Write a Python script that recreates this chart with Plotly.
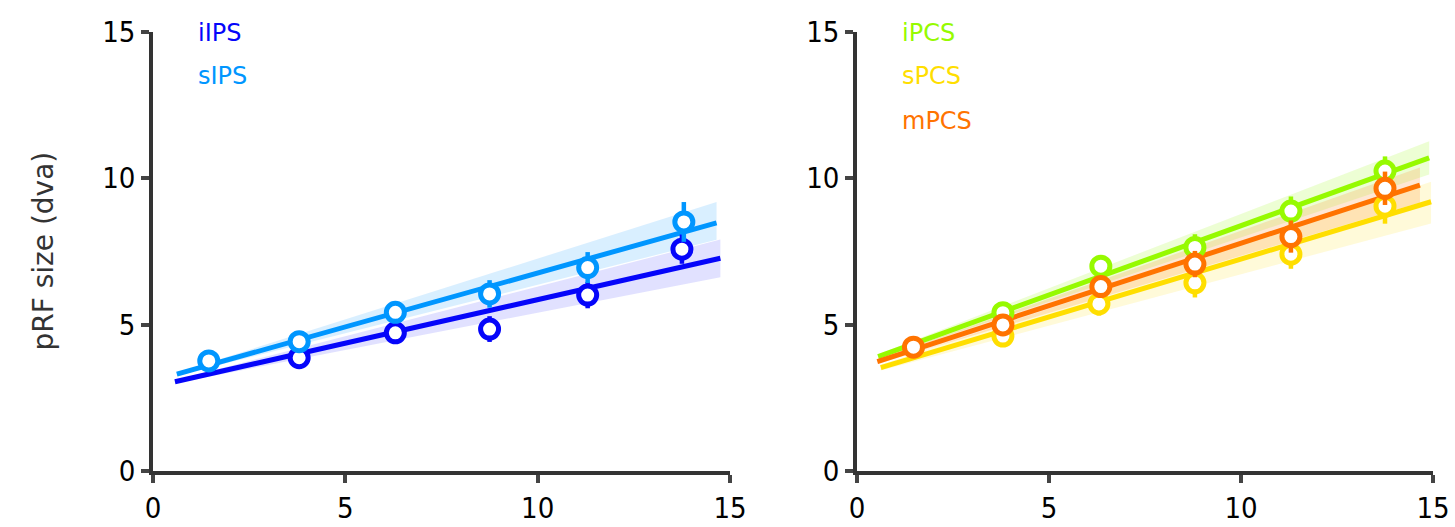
import plotly.graph_objects as go

# ---------------- data ----------------
# left panel (IPS)
iips_x = [3.8, 6.3, 8.75, 11.3, 13.75]
iips_y = [3.87, 4.72, 4.85, 6.01, 7.58]
iips_err = [0.15, 0.18, 0.44, 0.45, 0.5]
sips_x = [1.45, 3.8, 6.3, 8.75, 11.3, 13.8]
sips_y = [3.76, 4.42, 5.42, 6.05, 6.95, 8.51]
sips_err = [0.12, 0.15, 0.18, 0.47, 0.53, 0.68]

iips_fit_x = [0.57, 14.75]
iips_fit_y = [3.05, 7.27]
iips_band_lo = [3.0, 6.62]
iips_band_hi = [3.1, 7.91]
sips_fit_x = [0.62, 14.65]
sips_fit_y = [3.31, 8.48]
sips_band_lo = [3.26, 7.9]
sips_band_hi = [3.36, 9.19]

# right panel (PCS)
ipcs_x = [3.8, 6.35, 8.8, 11.3, 13.75]
ipcs_y = [5.41, 7.0, 7.64, 8.88, 10.25]
ipcs_err = [0.15, 0.2, 0.45, 0.5, 0.5]
spcs_x = [3.8, 6.3, 8.8, 11.3, 13.75]
spcs_y = [4.61, 5.71, 6.43, 7.41, 9.05]
spcs_err = [0.15, 0.4, 0.5, 0.5, 0.6]
mpcs_x = [1.47, 3.8, 6.35, 8.8, 11.3, 13.75]
mpcs_y = [4.23, 4.99, 6.3, 7.07, 8.01, 9.66]
mpcs_err = [0.12, 0.15, 0.2, 0.45, 0.55, 0.57]

ipcs_fit_x = [0.55, 14.9]
ipcs_fit_y = [3.91, 10.70]
ipcs_band_lo = [3.83, 10.13]
ipcs_band_hi = [3.99, 11.27]
spcs_fit_x = [0.62, 14.95]
spcs_fit_y = [3.53, 9.2]
spcs_band_lo = [3.43, 8.46]
spcs_band_hi = [3.63, 9.88]
mpcs_fit_x = [0.53, 14.66]
mpcs_fit_y = [3.74, 9.77]
mpcs_band_lo = [3.66, 9.17]
mpcs_band_hi = [3.82, 10.37]

x_ticks = [0, 5, 10, 15]
y_ticks = [0, 5, 10, 15]

# ---------------- styles ----------------
C_IIPS = "rgb(5,5,250)"
C_SIPS = "rgb(0,150,255)"
C_IPCS = "rgb(150,250,0)"
C_SPCS = "rgb(255,222,0)"
C_MPCS = "rgb(255,115,0)"

fig = go.Figure()


def band(xa, ya, x, lo, hi, fill):
    fig.add_trace(go.Scatter(
        x=list(x) + list(x)[::-1], y=list(hi) + list(lo)[::-1],
        fill="toself", fillcolor=fill, mode="lines", line=dict(width=0),
        hoverinfo="skip", showlegend=False, xaxis=xa, yaxis=ya))


def fitline(xa, ya, x, y, color):
    fig.add_trace(go.Scatter(
        x=x, y=y, mode="lines", line=dict(color=color, width=5),
        showlegend=False, xaxis=xa, yaxis=ya))


def points(xa, ya, x, y, err, color):
    fig.add_trace(go.Scatter(
        x=x, y=y, mode="markers",
        marker=dict(symbol="circle", size=18, color="white",
                    line=dict(color=color, width=5)),
        error_y=dict(type="data", array=err, visible=True, color=color,
                     thickness=4.5, width=0),
        showlegend=False, xaxis=xa, yaxis=ya))


# left panel
band("x", "y", sips_fit_x, sips_band_lo, sips_band_hi, "rgba(0,150,255,0.15)")
band("x", "y", iips_fit_x, iips_band_lo, iips_band_hi, "rgba(20,20,255,0.13)")
fitline("x", "y", sips_fit_x, sips_fit_y, C_SIPS)
fitline("x", "y", iips_fit_x, iips_fit_y, C_IIPS)
points("x", "y", iips_x, iips_y, iips_err, C_IIPS)
points("x", "y", sips_x, sips_y, sips_err, C_SIPS)

# right panel
band("x2", "y2", ipcs_fit_x, ipcs_band_lo, ipcs_band_hi, "rgba(150,250,0,0.17)")
band("x2", "y2", spcs_fit_x, spcs_band_lo, spcs_band_hi, "rgba(255,222,0,0.15)")
band("x2", "y2", mpcs_fit_x, mpcs_band_lo, mpcs_band_hi, "rgba(255,115,0,0.17)")
fitline("x2", "y2", ipcs_fit_x, ipcs_fit_y, C_IPCS)
fitline("x2", "y2", spcs_fit_x, spcs_fit_y, C_SPCS)
fitline("x2", "y2", mpcs_fit_x, mpcs_fit_y, C_MPCS)
points("x2", "y2", ipcs_x, ipcs_y, ipcs_err, C_IPCS)
points("x2", "y2", spcs_x, spcs_y, spcs_err, C_SPCS)
points("x2", "y2", mpcs_x, mpcs_y, mpcs_err, C_MPCS)

TICKFONT = dict(family="DejaVu Sans Condensed, DejaVu Sans", size=29, color="black")
axis_common = dict(
    range=[0, 15], showgrid=False, zeroline=False, showline=True,
    linecolor="#333333", linewidth=3.5, ticks="outside", ticklen=8,
    tickwidth=3.5, tickcolor="#444444", tickfont=TICKFONT, fixedrange=True,
    automargin=False)

ydom = [56 / 527, 495 / 527]
fig.update_layout(
    width=1455, height=527,
    margin=dict(l=0, r=0, t=0, b=0, autoexpand=False),
    paper_bgcolor="white", plot_bgcolor="white",
    showlegend=False,
    xaxis=dict(domain=[153 / 1455, 730 / 1455], tickvals=x_ticks, anchor="y", **axis_common),
    yaxis=dict(domain=ydom, tickvals=y_ticks, anchor="x", **axis_common),
    xaxis2=dict(domain=[857 / 1455, 1433 / 1455], tickvals=x_ticks, anchor="y2", **axis_common),
    yaxis2=dict(domain=ydom, tickvals=y_ticks, anchor="x2", **axis_common),
)

LEGFONT = "DejaVu Sans"
labels = [
    ("x", "y", 1.12, 14.96, "iIPS", C_IIPS),
    ("x", "y", 1.12, 13.5, "sIPS", C_SIPS),
    ("x2", "y2", 1.12, 14.96, "iPCS", C_IPCS),
    ("x2", "y2", 1.12, 13.5, "sPCS", C_SPCS),
    ("x2", "y2", 1.12, 11.96, "mPCS", C_MPCS),
]
for xa, ya, lx, ly, txt, col in labels:
    fig.add_annotation(x=lx, y=ly, xref=xa, yref=ya, text=txt, showarrow=False,
                       xanchor="left", yanchor="middle",
                       font=dict(family=LEGFONT, size=24, color=col))

fig.add_annotation(x=43 / 1455, y=0.5 + (527 / 2 - 251.5) / 527, xref="paper", yref="paper",
                   text="pRF size (dva)", textangle=-90, showarrow=False,
                   xanchor="center", yanchor="middle",
                   font=dict(family="DejaVu Sans", size=28, color="#333333"))

fig.write_html("out.html", config={"displayModeBar": False},
               post_script="document.body.style.margin='0';document.body.style.overflow='hidden';")
